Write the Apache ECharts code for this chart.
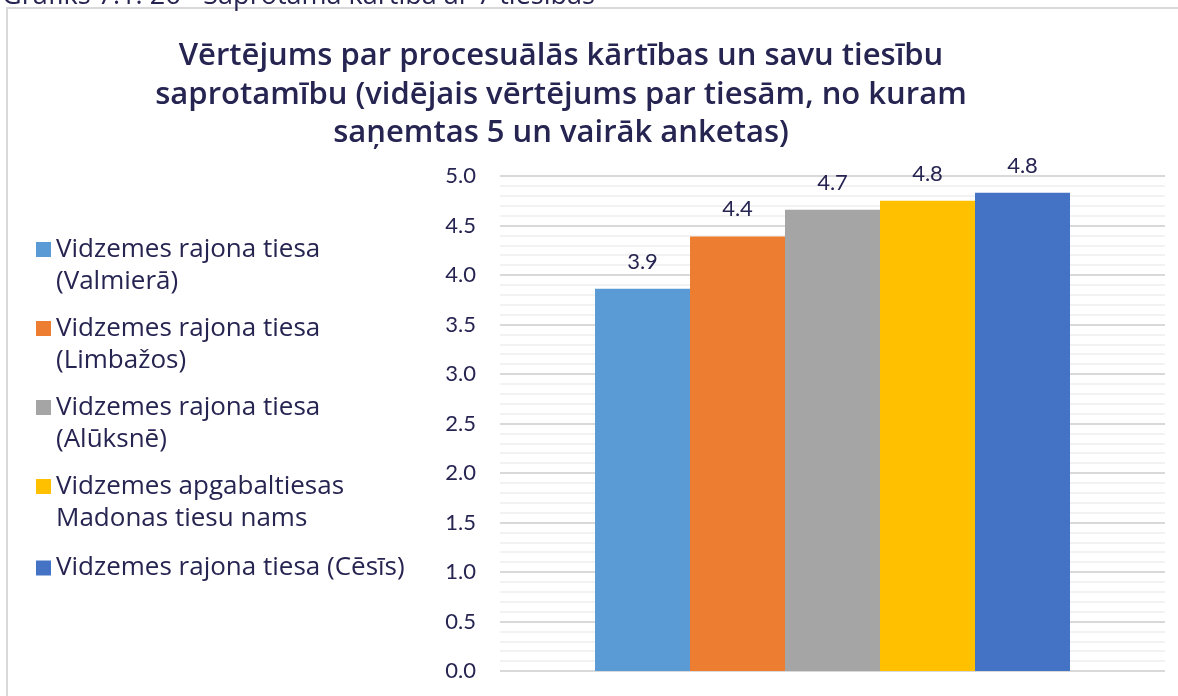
<!DOCTYPE html>
<html>
<head>
<meta charset="utf-8">
<script src="https://cdn.jsdelivr.net/npm/echarts@6/dist/echarts.min.js"></script>
<style>
  html, body { margin: 0; padding: 0; background: #fff; }
  #vis { width: 1178px; height: 696px; }
</style>
</head>
<body>
<div id="vis"></div>
<script>
const courts = [
  'Vidzemes rajona tiesa\n(Valmierā)',
  'Vidzemes rajona tiesa\n(Limbažos)',
  'Vidzemes rajona tiesa\n(Alūksnē)',
  'Vidzemes apgabaltiesas\nMadonas tiesu nams',
  'Vidzemes rajona tiesa (Cēsīs)'
]
const scores = [3.86, 4.39, 4.66, 4.75, 4.83]
const yTicks = [0, 5, 0.5]

const textColor = '#262451'
const font = 'Lato'
const wideFont = 'Open Sans'

const chart = echarts.init(document.getElementById('vis'), null, { renderer: 'canvas' })

// icon for two-line legend items: square sits at the first line
const topIcon = 'path://M0,0h15v15h-15z M0,48'

const legendText = { color: textColor, fontFamily: wideFont, fontSize: 26, lineHeight: 32 }

const options = {
  color: ['#5B9BD5', '#ED7D31', '#A5A5A5', '#FFC000', '#4472C4'],
  animation: false,
  title: {
    text: 'Vērtējums par procesuālās kārtības un savu tiesību\nsaprotamību (vidējais vērtējums par tiesām, no kuram\nsaņemtas 5 un vairāk anketas)',
    left: 561,
    top: 37,
    padding: 0,
    textAlign: 'center',
    textStyle: { color: textColor, fontFamily: wideFont, fontWeight: 600, fontSize: 31, lineHeight: 38.5 }
  },
  graphic: [
    {
      type: 'rect',
      shape: { x: 7, y: 8, width: 1300, height: 800 },
      style: { fill: 'none', stroke: '#d9d9d9', lineWidth: 2 }
    },
    {
      type: 'text',
      x: 2,
      y: -17,
      style: { text: 'Grafiks 7.1. 26 - Saprotama kārtība ar 7 tiesībās', fill: textColor, font: '27px "Open Sans"' }
    }
  ],
  legend: [
    {
      orient: 'vertical',
      left: 36,
      top: 234,
      padding: 0,
      itemWidth: 15,
      itemHeight: 48,
      itemGap: 15,
      selectedMode: false,
      textStyle: legendText,
      data: courts.slice(0, 4).map(name => ({ name, icon: topIcon }))
    },
    {
      orient: 'vertical',
      left: 36,
      top: 552,
      padding: 0,
      itemWidth: 15,
      itemHeight: 15,
      selectedMode: false,
      textStyle: legendText,
      data: [{ name: courts[4], icon: 'rect' }]
    }
  ],
  grid: { left: 500, right: 13, top: 176, bottom: 25 },
  xAxis: {
    type: 'category',
    data: [''],
    axisLine: { show: false },
    axisTick: { show: false },
    axisLabel: { show: false }
  },
  yAxis: {
    type: 'value',
    min: yTicks[0],
    max: yTicks[1],
    interval: yTicks[2],
    axisLine: { show: false },
    axisTick: { show: false },
    axisLabel: {
      margin: 24,
      color: textColor,
      fontFamily: font,
      fontSize: 22,
      formatter: v => v.toFixed(1)
    },
    splitLine: { lineStyle: { color: '#d9d9d9', width: 2 } },
    minorTick: { show: false, splitNumber: 5 },
    minorSplitLine: { show: true, lineStyle: { color: '#f2f2f2', width: 2 } }
  },
  series: courts.map((name, i) => ({
    name,
    type: 'bar',
    barWidth: 95,
    barGap: '0%',
    data: [scores[i]],
    label: {
      show: true,
      position: 'top',
      distance: 16,
      color: textColor,
      fontFamily: font,
      fontSize: 22,
      formatter: p => p.value.toFixed(1)
    }
  }))
}

chart.setOption(options)
window.addEventListener('resize', () => chart.resize())
</script>
</body>
</html>
